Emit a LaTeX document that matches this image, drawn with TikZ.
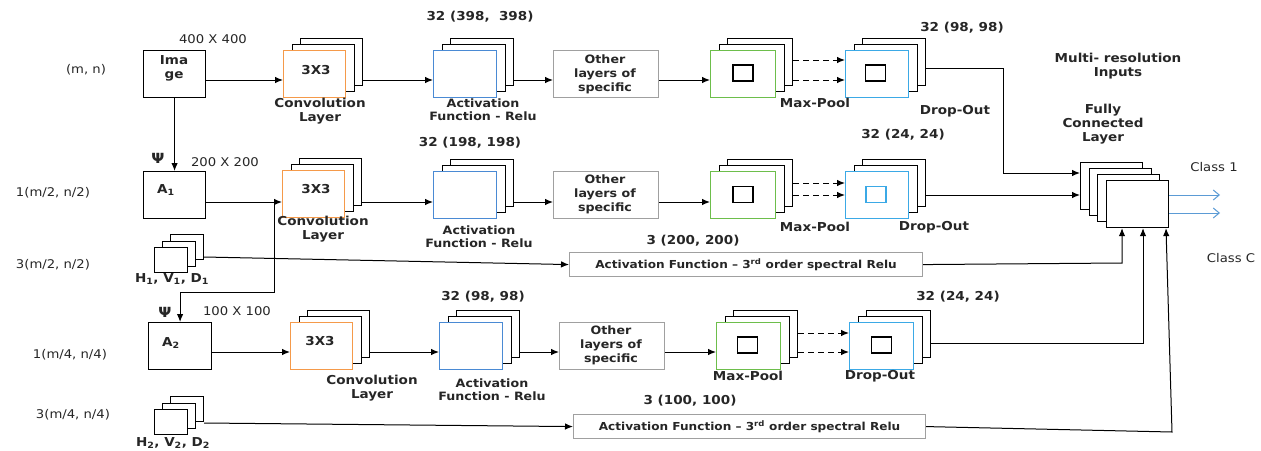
\documentclass[tikz,border=0pt]{standalone}
\usepackage{fontspec}
\setmainfont{DejaVu Sans}[FakeStretch=1.1]
\usetikzlibrary{arrows.meta}
\definecolor{orng}{HTML}{F59A4A}
\definecolor{blu}{HTML}{4A8AD4}
\definecolor{grn}{HTML}{6DBE4B}
\definecolor{lblu}{HTML}{3BA9E6}
\definecolor{gry}{HTML}{A0A0A0}
\definecolor{txtc}{HTML}{262626}
\definecolor{outb}{HTML}{5B9BD5}
\newcommand\stk[5]{%
  \node[bx, minimum width=#4] (#1b) at ({#2+17},{#3-12}) {};
  \node[bx, minimum width=#4] (#1m) at ({#2+8.5},{#3-6}) {};
  \node[bx, minimum width=#4, draw=#5] (#1f) at (#2,#3) {};}
\newcommand\hstk[3]{%
  \node[sbx] (#1b) at ({#2+16},{#3-13}) {};
  \node[sbx] (#1m) at ({#2+8},{#3-6.5}) {};
  \node[sbx] (#1f) at (#2,#3) {};}
\begin{document}
\begin{tikzpicture}[x=1pt,y=-1pt,
  bx/.style={draw=black, fill=white, line width=1.15pt, anchor=north west, inner sep=0pt, minimum height=47pt},
  sbx/.style={draw=black, fill=white, line width=1.15pt, anchor=north west, inner sep=0pt, minimum width=33pt, minimum height=25pt},
  insq/.style={draw=black, line width=1.15pt, inner sep=0pt, minimum width=20pt, minimum height=16pt},
  t/.style={font=\fontsize{12}{14}\selectfont, text=txtc, inner sep=0pt, align=center},
  tb/.style={font=\fontsize{12.3}{14}\selectfont\bfseries, text=txtc, inner sep=0pt, align=center},
  arr/.style={-{Latex[length=8pt,width=6.5pt]}, line width=1pt},
  darr/.style={arr, dash pattern=on 6pt off 4pt},
  oarr/.style={-{Straight Barb[length=6pt,width=10pt]}, line width=1pt, draw=outb}]
\useasboundingbox (0,0) rectangle (1261,450);
% row coordinates
\coordinate (r1) at (0,80);
\coordinate (r2) at (0,202);
\coordinate (r3) at (0,352);
% ---------- row 1
\node[bx, minimum width=62] (img) at (143,50) {};
\node[tb] (imgt) at (174,68.5) {Ima\\ge};
\stk{cv1}{283}{50}{62}{orng}
\stk{ac1}{433}{50}{63}{blu}
\node[bx, draw=gry, minimum width=105] (ot1) at (553,50) {};
\stk{mp1}{710}{50}{65}{grn}
\stk{do1}{845}{50}{63}{lblu}
\node[insq] (mp1s) at (743,73) {};
\node[insq] (do1s) at (875.5,73) {};
% ---------- row 2
\node[bx, minimum width=62] (a1) at (143,171) {};
\stk{cv2}{282}{170}{62}{orng}
\stk{ac2}{433}{171}{63}{blu}
\node[bx, draw=gry, minimum width=105] (ot2) at (553,171) {};
\stk{mp2}{710}{171}{65}{grn}
\stk{do2}{845}{171}{63}{lblu}
\node[insq] (mp2s) at (743,194.5) {};
\node[insq, draw=lblu] (do2s) at (876,194.5) {};
\hstk{h1}{154}{247}
\node[bx, draw=gry, minimum width=353, minimum height=24] (sp1) at (569,252) {};
% ---------- row 3
\node[bx, minimum width=63] (a2) at (148,322) {};
\stk{cv3}{290}{322}{62}{orng}
\stk{ac3}{439}{322}{63}{blu}
\node[bx, draw=gry, minimum width=105] (ot3) at (559,322) {};
\stk{mp3}{716}{322}{64}{grn}
\stk{do3}{849}{322}{64}{lblu}
\node[insq] (mp3s) at (747.5,345) {};
\node[insq] (do3s) at (881.5,345) {};
\hstk{h2}{154}{409}
\node[bx, draw=gry, minimum width=352, minimum height=24] (sp2) at (573,414) {};
% ---------- fully connected
\node[bx, minimum width=62] (fc1) at (1080,162) {};
\node[bx, minimum width=62] (fc2) at (1088.5,168) {};
\node[bx, minimum width=62] (fc3) at (1097,174) {};
\node[bx, minimum width=62] (fc4) at (1106,180) {};
% ---------- texts
\node[t] (l1) at (86,70) {(m, n)};
\node[t] (s1) at (213,39) {400 X 400};
\node[tb] (c1t) at (316,70) {3X3};
\node[tb] (c1l) at (320,111) {Convolution\\Layer};
\node[tb] (n1) at (480,17) {32 (398,~~398)};
\node[tb, font=\fontsize{11.5}{13}\selectfont\bfseries] (a1l) at (483,109.5) {Activation\\Function - Relu};
\node[tb, font=\fontsize{11.5}{14}\selectfont\bfseries] (o1t) at (605,74) {Other\\layers of\\specific};
\node[tb] (m1l) at (815,103) {Max-Pool};
\node[tb] (d1l) at (955,111) {Drop-Out};
\node[tb] (n2) at (962,28) {32 (98, 98)};
\node[tb] (mri) at (1118,66) {Multi- resolution\\Inputs};
\node[tb] (fcl) at (1103,124) {Fully\\Connected\\Layer};
\node[t] (cl1) at (1214,167) {Class 1};
\node[t] (clc) at (1231,258) {Class C};
% row 2 texts
\node[t] (l2) at (53,193) {1(m/2, n/2)};
\node[tb, font=\fontsize{14}{14}\selectfont\bfseries] (psi1) at (158,158) {Ψ};
\node[t] (s2) at (225,162) {200 X 200};
\node[tb] (a1t) at (166,190) {A\textsubscript{1}};
\node[tb] (c2t) at (316,189) {3X3};
\node[tb] (c2l) at (323,229.5) {Convolution\\Layer};
\node[tb] (n3) at (470,143) {32 (198, 198)};
\node[tb, font=\fontsize{11.5}{13}\selectfont\bfseries] (a2l) at (479,236.5) {Activation\\Function - Relu};
\node[tb, font=\fontsize{11.5}{14}\selectfont\bfseries] (o2t) at (605,194.5) {Other\\layers of\\specific};
\node[tb] (m2l) at (815,227) {Max-Pool};
\node[tb] (d2l) at (934,227) {Drop-Out};
\node[tb] (n4) at (903,135) {32 (24, 24)};
\node[t] (l3) at (53,265) {3(m/2, n/2)};
\node[tb] (h1t) at (172,279) {H\textsubscript{1}, V\textsubscript{1}, D\textsubscript{1}};
\node[tb] (n5) at (693,241) {3 (200, 200)};
\node[tb, font=\fontsize{11}{13}\selectfont\bfseries] (sp1t) at (sp1.center) {Activation Function -- 3\textsuperscript{rd} order spectral Relu};
% row 3 texts
\node[t] (l4) at (70,355) {1(m/4, n/4)};
\node[tb, font=\fontsize{14}{14}\selectfont\bfseries] (psi2) at (165,312) {Ψ};
\node[t] (s3) at (237,311) {100 X 100};
\node[tb] (a2t) at (171,343) {A\textsubscript{2}};
\node[tb] (c3t) at (320,341) {3X3};
\node[tb] (c3l) at (372,388.5) {Convolution\\Layer};
\node[tb] (n6) at (483,297) {32 (98, 98)};
\node[tb, font=\fontsize{11.5}{13}\selectfont\bfseries] (a3l) at (492,390) {Activation\\Function - Relu};
\node[tb, font=\fontsize{11.5}{14}\selectfont\bfseries] (o3t) at (611,345.5) {Other\\layers of\\specific};
\node[tb] (m3l) at (748,376) {Max-Pool};
\node[tb] (d3l) at (880,376) {Drop-Out};
\node[tb] (n7) at (958,297) {32 (24, 24)};
\node[t] (l5) at (73,415) {3(m/4, n/4)};
\node[tb] (h2t) at (173,443) {H\textsubscript{2}, V\textsubscript{2}, D\textsubscript{2}};
\node[tb] (n8) at (690,401) {3 (100, 100)};
\node[tb, font=\fontsize{11}{13}\selectfont\bfseries] (sp2t) at (sp2.center) {Activation Function -- 3\textsuperscript{rd} order spectral Relu};
% ---------- connectors row 1
\draw[arr] (img.east|-r1) -- (cv1f.west|-r1);
\draw[arr] (cv1b.east|-r1) -- (ac1f.west|-r1);
\draw[arr] (ac1b.east|-r1) -- (ot1.west|-r1);
\draw[arr] (ot1.east|-r1) -- (mp1f.west|-r1);
\coordinate (d1a) at (0,60);
\coordinate (d1b) at (0,80);
\draw[darr] (mp1b.east|-d1a) -- (do1f.west|-d1a);
\draw[darr] (mp1b.east|-d1b) -- (do1f.west|-d1b);
\coordinate (k1) at (1003,68);
\coordinate (k2) at (1003,173);
\draw[arr] (do1b.east|-k1) -- (k1) -- (k2) -- (fc1.west|-k2);
\draw[arr] (img.south) -- (a1.north);
% row 2
\draw[arr] (a1.east|-r2) -- (cv2f.west|-r2);
\coordinate (j1) at (274,202);
\coordinate (j2) at (274,292);
\draw[arr] (j1) -- (j2) -| (a2.north);
\draw[arr] (cv2b.east|-r2) -- (ac2f.west|-r2);
\draw[arr] (ac2b.east|-r2) -- (ot2.west|-r2);
\draw[arr] (ot2.east|-r2) -- (mp2f.west|-r2);
\coordinate (d2a) at (0,183);
\coordinate (d2b) at (0,195);
\draw[darr] (mp2b.east|-d2a) -- (do2f.west|-d2a);
\draw[darr] (mp2b.east|-d2b) -- (do2f.west|-d2b);
\draw[arr] (do2b.east|-d2b) -- (fc1.west|-d2b);
\coordinate (y257) at (0,257);
\draw[arr] (h1b.east|-y257) -- (sp1.west);
\coordinate (k3) at (1122,263);
\draw[arr] (sp1.east) -- (k3) -- (fc4.south-|k3);
% row 3
\draw[arr] (a2.east|-r3) -- (cv3f.west|-r3);
\draw[arr] (cv3b.east|-r3) -- (ac3f.west|-r3);
\draw[arr] (ac3b.east|-r3) -- (ot3.west|-r3);
\draw[arr] (ot3.east|-r3) -- (mp3f.west|-r3);
\coordinate (d3a) at (0,333);
\draw[darr] (mp3b.east|-d3a) -- (do3f.west|-d3a);
\draw[darr] (mp3b.east|-r3) -- (do3f.west|-r3);
\coordinate (k4) at (1143,343);
\draw[arr] (do3b.east|-k4) -- (k4) -- (fc4.south-|k4);
\coordinate (y423) at (0,423);
\draw[arr] (h2b.east|-y423) -- (sp2.west);
\coordinate (k5) at (1172,432);
\coordinate (k6) at (1166,0);
\draw[arr] (sp2.east) -- (k5) -- (fc4.south-|k6);
% outputs
\coordinate (o1) at (1220,195);
\coordinate (o2) at (1220,213);
\draw[oarr] (fc4.east|-o1) -- (o1);
\draw[oarr] (fc4.east|-o2) -- (o2);
\end{tikzpicture}
\end{document}
